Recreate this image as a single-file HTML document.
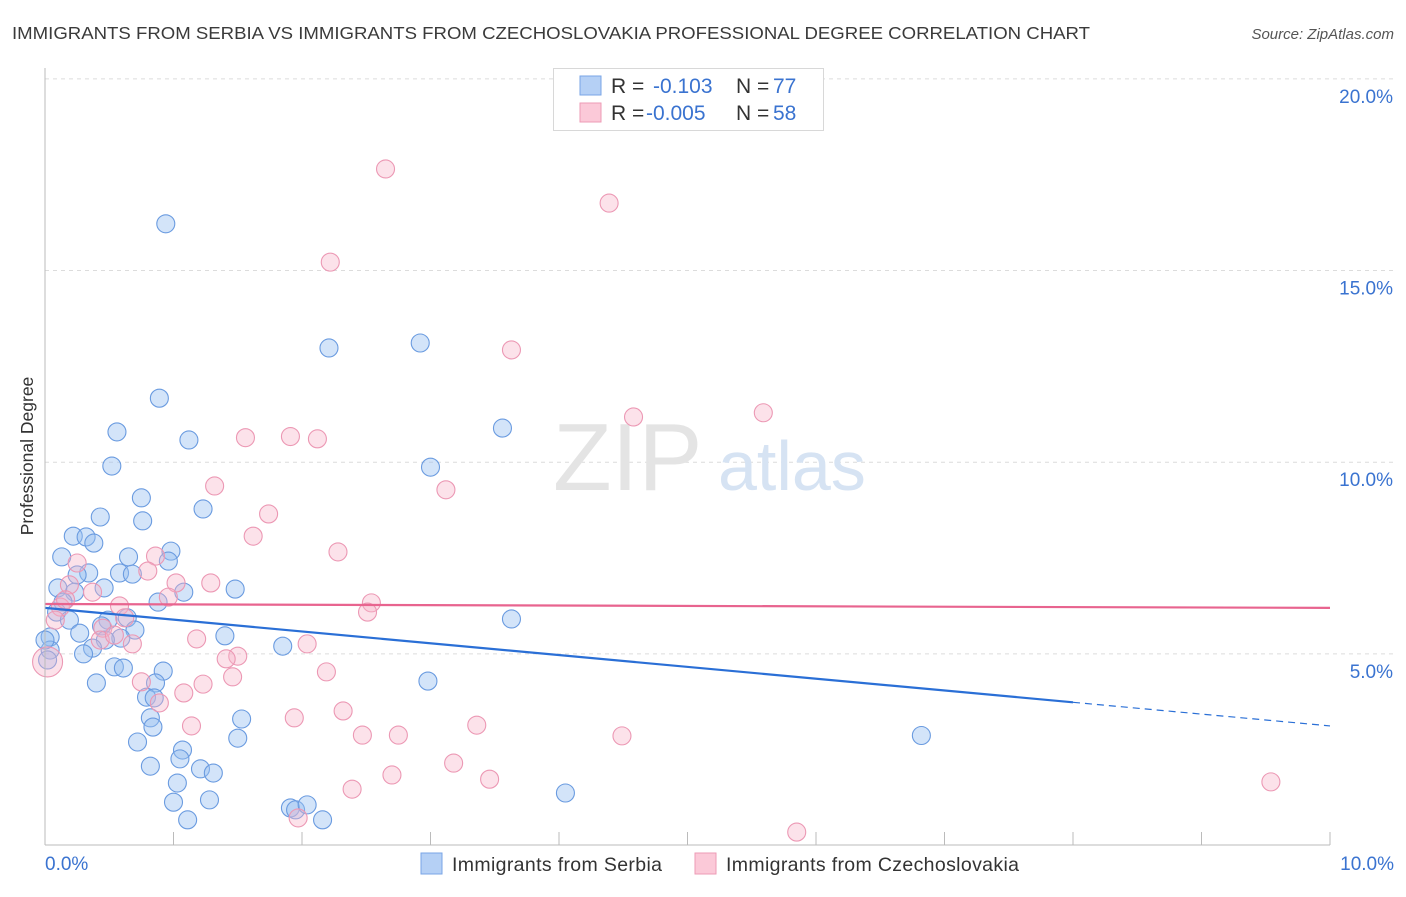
<!DOCTYPE html>
<html><head><meta charset="utf-8">
<style>
body{margin:0;background:#fff;font-family:"Liberation Sans",sans-serif;}
svg text{font-family:"Liberation Sans",sans-serif;}
</style></head>
<body>
<svg id="chart" width="1406" height="892" xmlns="http://www.w3.org/2000/svg">
<text x="12" y="39" font-size="17.5" fill="#3a3a3a" textLength="1078" lengthAdjust="spacingAndGlyphs">IMMIGRANTS FROM SERBIA VS IMMIGRANTS FROM CZECHOSLOVAKIA PROFESSIONAL DEGREE CORRELATION CHART</text>
<text x="1394" y="39" font-size="15" fill="#555" text-anchor="end" font-style="italic">Source: ZipAtlas.com</text>
<text transform="translate(33,456) rotate(-90)" font-size="17.5" fill="#333" text-anchor="middle">Professional Degree</text>
<g id="grid"></g>
<text x="553" y="490" font-size="96" fill="#e4e4e4" font-family="Liberation Serif">ZIP</text>
<text x="718" y="490" font-size="70" fill="#d6e3f3">atlas</text>
<g id="pts-blue"></g>
<g id="pts-pink"></g>
<g id="trends"></g>
<g id="axes"></g>
<g>
<rect x="553.5" y="68.5" width="270" height="62" fill="#fff" stroke="#d8d8d8"/>
<rect x="580" y="76" width="21" height="19" fill="#b5d0f5" stroke="#79a5e6"/>
<rect x="580" y="103" width="21" height="19" fill="#fbc9d8" stroke="#ee9bb6"/>
<text x="611" y="93" font-size="21" fill="#333">R = </text><text x="653" y="93" font-size="21" fill="#3a73d0">-0.103</text>
<text x="736" y="93" font-size="21" fill="#333">N = </text><text x="773" y="93" font-size="21" fill="#3a73d0">77</text>
<text x="611" y="120" font-size="21" fill="#333">R = </text><text x="646" y="120" font-size="21" fill="#3a73d0">-0.005</text>
<text x="736" y="120" font-size="21" fill="#333">N = </text><text x="773" y="120" font-size="21" fill="#3a73d0">58</text>
</g>
<g>
<rect x="421" y="853" width="21" height="21" fill="#b5d0f5" stroke="#79a5e6"/>
<text x="452" y="871" font-size="19.5" fill="#333" textLength="210">Immigrants from Serbia</text>
<rect x="695" y="853" width="21" height="21" fill="#fbc9d8" stroke="#ee9bb6"/>
<text x="726" y="871" font-size="19.5" fill="#333" textLength="293">Immigrants from Czechoslovakia</text>
</g>
</svg>
<script>
const blueX=[0.94,2.21,2.92,0.89,0.56,1.12,3.56,0.52,3.00,0.75,0.76,1.23,0.43,0.22,0.32,0.38,0.13,0.65,0.98,0.96,0.58,0.68,0.34,0.25,0.10,1.48,1.08,0.46,0.23,0.14,0.88,0.09,0.19,0.64,0.49,3.63,0.70,0.27,0.44,0.59,0.47,1.40,0.04,1.85,0.37,0.30,0.04,0.54,0.61,0.92,2.98,0.40,0.86,0.79,0.85,1.53,0.82,0.84,1.50,0.72,6.82,1.07,1.05,0.82,1.21,1.31,1.03,4.05,1.00,1.28,1.91,1.95,2.04,1.11,2.16,0.00,0.02];
const blueY=[16.22,12.98,13.11,11.67,10.79,10.58,10.89,9.90,9.87,9.07,8.47,8.78,8.57,8.07,8.05,7.89,7.53,7.53,7.68,7.42,7.11,7.08,7.11,7.06,6.72,6.69,6.61,6.72,6.61,6.35,6.35,6.09,5.88,5.94,5.88,5.91,5.62,5.54,5.73,5.41,5.36,5.47,5.44,5.20,5.15,5.00,5.10,4.66,4.63,4.55,4.29,4.24,4.24,3.87,3.85,3.30,3.33,3.09,2.80,2.70,2.87,2.49,2.26,2.07,2.00,1.89,1.63,1.37,1.13,1.19,0.98,0.93,1.06,0.67,0.67,5.36,4.84];
const pinkX=[2.65,4.39,2.22,3.63,4.58,5.59,1.56,1.91,2.12,3.12,1.32,1.74,1.62,2.28,0.86,0.80,0.25,1.02,1.29,0.19,0.37,0.58,2.54,2.51,0.96,0.62,0.12,0.45,0.68,1.18,2.04,1.50,1.41,2.19,1.46,0.75,1.23,1.08,0.89,1.14,1.94,2.32,3.36,2.47,2.75,4.49,3.18,2.70,3.46,2.39,9.54,1.97,5.85,0.02,0.08,0.16,0.43,0.54];
const pinkY=[17.65,16.76,15.22,12.93,11.18,11.29,10.64,10.67,10.61,9.28,9.38,8.65,8.07,7.66,7.55,7.16,7.37,6.85,6.85,6.80,6.61,6.25,6.33,6.09,6.48,5.94,6.22,5.67,5.26,5.39,5.26,4.94,4.87,4.53,4.40,4.27,4.21,3.98,3.72,3.12,3.33,3.51,3.14,2.88,2.88,2.86,2.15,1.84,1.73,1.47,1.66,0.72,0.35,4.79,5.88,6.41,5.36,5.49];
const blueTrend=[6.20,3.12];
const pinkTrend=[6.30,6.20];
const yTicks=[5,10,15,20];
const yTickLabels=["5.0%","10.0%","15.0%","20.0%"];
const xTickLabels=["0.0%","10.0%"];

const NS="http://www.w3.org/2000/svg";
const X=v=>45+v*128.5;
const Y=v=>845.5-v*38.33;
function mk(tag,attrs,parent){const e=document.createElementNS(NS,tag);for(const k in attrs)e.setAttribute(k,attrs[k]);parent.appendChild(e);return e;}
const grid=document.getElementById('grid');
yTicks.forEach((t,i)=>{
  const l=mk('line',{x1:45,x2:1394,y1:Y(t),y2:Y(t),stroke:'#dcdcdc','stroke-dasharray':'4,4'},grid);
  
  
  const tx=mk('text',{x:1393,y:Y(t)+24,'font-size':19,fill:'#3a73d0','text-anchor':'end'},grid);
  tx.textContent=yTickLabels[i];
  
  
});
const axes=document.getElementById('axes');
const la=mk('line',{x1:45,x2:45,y1:68,y2:845,stroke:'#bbb'},axes);


const xa=mk('line',{x1:45,x2:1330,y1:845,y2:845,stroke:'#bbb'},axes);


for(let i=0;i<=10;i++){
  const t=mk('line',{x1:X(i),x2:X(i),y1:832,y2:845,stroke:'#bbb'},axes);
  
  
}
[[0,'start',45],[10,'end',1394]].forEach((d,i)=>{
  const tx=mk('text',{x:d[2],y:870,'font-size':19,fill:'#3a73d0','text-anchor':d[1]},axes);
  tx.textContent=xTickLabels[i];
  
  
});
const gb=document.getElementById('pts-blue');
blueX.forEach((x,i)=>{
  const c=mk('circle',{cx:X(x),cy:Y(blueY[i]),r:9,fill:'rgba(150,190,240,0.42)',stroke:'#6a9be0','stroke-width':1.1},gb);
  
  
});
const gp=document.getElementById('pts-pink');
pinkX.forEach((x,i)=>{
  const r=(i===53)?15:9;
  const c=mk('circle',{cx:X(x),cy:Y(pinkY[i]),r:r,fill:'rgba(246,180,200,0.38)',stroke:'#ec98b4','stroke-width':1.1},gp);
  
  
});
const tr=document.getElementById('trends');
const bs=v=>blueTrend[0]+(blueTrend[1]-blueTrend[0])*v/10;
const b1=mk('line',{x1:X(0),y1:Y(bs(0)),x2:X(8),y2:Y(bs(8)),stroke:'#2a6fd6','stroke-width':2.2},tr);


const b2=mk('line',{x1:X(8),y1:Y(bs(8)),x2:X(10),y2:Y(bs(10)),stroke:'#2a6fd6','stroke-width':1.2,'stroke-dasharray':'7,5'},tr);


const p1=mk('line',{x1:X(0),y1:Y(pinkTrend[0]),x2:X(10),y2:Y(pinkTrend[1]),stroke:'#e8648f','stroke-width':2.2},tr);


</script>
</body></html>
